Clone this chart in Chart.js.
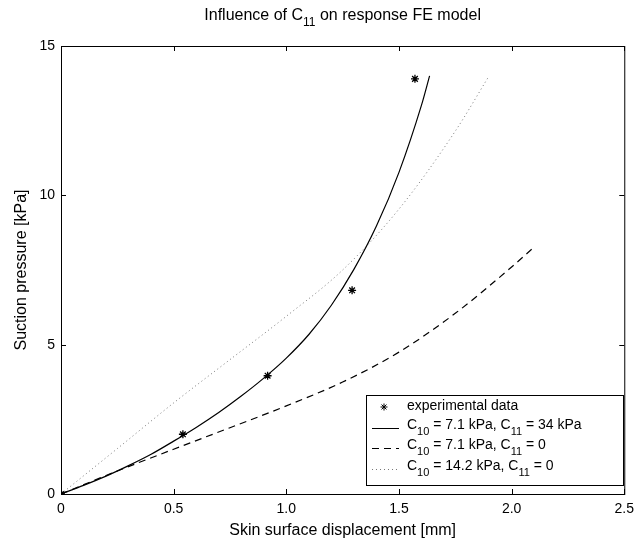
<!DOCTYPE html>
<html>
<head>
<meta charset="utf-8">
<script src="https://cdn.jsdelivr.net/npm/chart.js@4/dist/chart.umd.min.js"></script>
<style>
  html, body { margin: 0; padding: 0; background: #fff; }
  #wrap { width: 641px; height: 541px; position: relative; }
</style>
</head>
<body>
<div id="wrap"><canvas id="mainChart" width="641" height="541"></canvas></div>
<script>
// experimental points
const expX = [0, 0.541, 0.917, 1.292, 1.571];
const expY = [0, 2.0, 3.96, 6.82, 13.9];

// C10 = 7.1 kPa, C11 = 34 kPa (solid)
const solidX = [0, 0.1, 0.2, 0.3, 0.4, 0.5, 0.6, 0.7, 0.8, 0.9, 1.0, 1.1, 1.2, 1.3, 1.4, 1.5, 1.6, 1.636];
const solidY = [0, 0.29, 0.6, 0.95, 1.33, 1.77, 2.23, 2.73, 3.28, 3.88, 4.55, 5.34, 6.32, 7.52, 8.97, 10.77, 13.02, 14.0];

// C10 = 7.1 kPa, C11 = 0 (dashed)
const dashX = [0, 0.25, 0.5, 0.75, 1.0, 1.25, 1.5, 1.75, 2.0, 2.093];
const dashY = [0, 0.77, 1.5, 2.22, 2.95, 3.75, 4.75, 6.05, 7.6, 8.22];

// C10 = 14.2 kPa, C11 = 0 (dotted)
const dotX = [0, 0.25, 0.5, 0.75, 1.0, 1.25, 1.5, 1.75, 1.9];
const dotY = [0, 1.52, 3.05, 4.5, 5.95, 7.5, 9.54, 12.15, 14.0];

const xTicks = [0, 0.5, 1, 1.5, 2, 2.5];
const yTicks = [0, 5, 10, 15];

// legend labels: alternating normal / subscript pieces
const legendLabels = [
    ['experimental data'],
    ['C', '10', ' = 7.1 kPa, C', '11', ' = 34 kPa'],
    ['C', '10', ' = 7.1 kPa, C', '11', ' = 0'],
    ['C', '10', ' = 14.2 kPa, C', '11', ' = 0']
];
const titleParts = ['Influence of C', '11', ' on response FE model'];

const FONT = '"Liberation Sans", Arial, sans-serif';
const pts = (xs, ys) => xs.map((x, i) => ({ x: x, y: ys[i] }));

// draws text with alternating subscripts, returns end x
function drawSub(ctx, parts, x, y, size, subSize, subDy) {
    parts.forEach((p, i) => {
        const sub = i % 2 === 1;
        ctx.font = (sub ? subSize : size) + 'px ' + FONT;
        ctx.fillText(p, x, y + (sub ? subDy : 0));
        x += ctx.measureText(p).width;
    });
    return x;
}
function subWidth(ctx, parts, size, subSize) {
    let w = 0;
    parts.forEach((p, i) => {
        ctx.font = (i % 2 ? subSize : size) + 'px ' + FONT;
        w += ctx.measureText(p).width;
    });
    return w;
}

const frame = {
    id: 'frame',
    afterDraw(chart) {
        const ctx = chart.ctx;
        const a = chart.chartArea;
        const xs = chart.scales.x, ys = chart.scales.y;
        ctx.save();
        ctx.strokeStyle = '#000';
        ctx.lineWidth = 1;
        ctx.strokeRect(a.left + 0.5, a.top + 0.5, a.right - a.left, a.bottom - a.top);
        ctx.beginPath();
        xTicks.forEach(v => {
            const px = Math.round(xs.getPixelForValue(v)) + 0.5;
            ctx.moveTo(px, a.bottom); ctx.lineTo(px, a.bottom - 5);
            ctx.moveTo(px, a.top); ctx.lineTo(px, a.top + 5);
        });
        yTicks.forEach(v => {
            const py = Math.round(ys.getPixelForValue(v)) + 0.5;
            ctx.moveTo(a.left, py); ctx.lineTo(a.left + 5, py);
            ctx.moveTo(a.right, py); ctx.lineTo(a.right - 5, py);
        });
        ctx.stroke();

        // title
        ctx.fillStyle = '#000';
        ctx.textBaseline = 'middle';
        const tw = subWidth(ctx, titleParts, 16, 12);
        drawSub(ctx, titleParts, (a.left + a.right) / 2 - tw / 2, 16, 16, 12, 7);

        // legend
        const lx = 366, ly = 395, lw = 257, lh = 90;
        ctx.fillStyle = '#fff';
        ctx.fillRect(lx, ly, lw, lh);
        ctx.strokeRect(lx + 0.5, ly + 0.5, lw, lh);
        const rows = [407, 426, 446, 467];
        chart.data.datasets.forEach((ds, i) => {
            const ry = rows[i];
            ctx.strokeStyle = ds.borderColor;
            ctx.fillStyle = '#000';
            if (ds.showLine) {
                ctx.save();
                ctx.setLineDash(ds.borderDash || []);
                ctx.beginPath();
                ctx.moveTo(372, ry + 2.5); ctx.lineTo(399, ry + 2.5);
                ctx.stroke();
                ctx.restore();
            } else {
                Chart.helpers.drawPoint(ctx, { pointStyle: 'star', radius: 3.5, borderWidth: 1 }, 384, ry);
            }
            ctx.fillStyle = '#000';
            drawSub(ctx, legendLabels[i], 407, ry - 1, 14, 11, 7);
        });
        ctx.restore();
    }
};

const ctx = document.getElementById('mainChart').getContext('2d');
new Chart(ctx, {
    type: 'scatter',
    data: {
        datasets: [
            {
                data: pts(expX, expY), showLine: false,
                pointStyle: 'star', pointRadius: 4, borderColor: '#000',
                backgroundColor: '#000', pointBorderWidth: 1.3
            },
            {
                data: pts(solidX, solidY), showLine: true, borderColor: '#000',
                borderWidth: 1.2, pointRadius: 0, cubicInterpolationMode: 'monotone'
            },
            {
                data: pts(dashX, dashY), showLine: true, borderColor: '#000',
                borderWidth: 1.2, borderDash: [7, 5], pointRadius: 0, cubicInterpolationMode: 'monotone'
            },
            {
                data: pts(dotX, dotY), showLine: true, borderColor: '#777',
                borderWidth: 1, borderDash: [1, 3], pointRadius: 0, cubicInterpolationMode: 'monotone'
            }
        ]
    },
    options: {
        responsive: false,
        animation: false,
        layout: { padding: { left: 0, top: 46, right: 11, bottom: 0 } },
        plugins: { legend: { display: false }, tooltip: { enabled: false } },
        scales: {
            x: {
                type: 'linear', min: 0, max: 2.5,
                afterBuildTicks: s => { s.ticks = xTicks.map(v => ({ value: v })); },
                afterFit: s => { s.height = 47; },
                grid: { display: false, drawTicks: false },
                border: { display: false },
                ticks: { color: '#000', padding: 7, font: { family: FONT, size: 14 }, maxRotation: 0 },
                title: {
                    display: true, text: 'Skin surface displacement [mm]', color: '#000',
                    font: { family: FONT, size: 16 }, padding: { top: 0, bottom: 1 }
                }
            },
            y: {
                type: 'linear', min: 0, max: 15,
                afterBuildTicks: s => { s.ticks = yTicks.map(v => ({ value: v })); },
                afterFit: s => { s.width = 61; },
                grid: { display: false, drawTicks: false },
                border: { display: false },
                ticks: { color: '#000', padding: 6, font: { family: FONT, size: 14 } },
                title: {
                    display: true, text: 'Suction pressure [kPa]', color: '#000',
                    font: { family: FONT, size: 16 }, padding: { top: 12, bottom: 0 }
                }
            }
        }
    },
    plugins: [frame]
});
</script>
</body>
</html>
